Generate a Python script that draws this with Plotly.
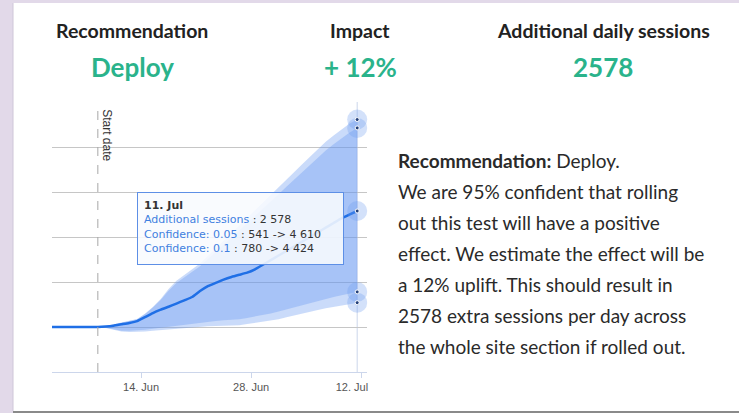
import plotly.graph_objects as go

# ---------------- data ----------------
dates = [
    "2017-06-02 12:00", "2017-06-03 12:00", "2017-06-04 12:00", "2017-06-05 12:00",
    "2017-06-06 12:00", "2017-06-07 12:00", "2017-06-08 12:00", "2017-06-09 12:00",
    "2017-06-10 12:00", "2017-06-11 12:00", "2017-06-12 12:00", "2017-06-13 12:00",
    "2017-06-14 12:00", "2017-06-15 12:00", "2017-06-16 12:00", "2017-06-17 12:00",
    "2017-06-18 12:00", "2017-06-19 12:00", "2017-06-20 12:00", "2017-06-21 12:00",
    "2017-06-22 12:00", "2017-06-23 12:00", "2017-06-24 12:00", "2017-06-25 12:00",
    "2017-06-26 12:00", "2017-06-27 12:00", "2017-06-28 12:00", "2017-06-29 12:00",
    "2017-06-30 12:00", "2017-07-01 12:00", "2017-07-02 12:00", "2017-07-03 12:00",
    "2017-07-04 12:00", "2017-07-05 12:00", "2017-07-06 12:00", "2017-07-07 12:00",
    "2017-07-08 12:00", "2017-07-09 12:00", "2017-07-10 12:00", "2017-07-11 12:00",
]
additional_sessions = [
    0, 0, 0, 0, 0, 0, 0, 10, 30, 60, 90, 130,
    220, 310, 385, 450, 520, 593, 667, 800, 909, 980, 1052, 1112,
    1160, 1207, 1282, 1383, 1485, 1588, 1691, 1795, 1898, 2001, 2104, 2208,
    2311, 2415, 2498, 2578,
]
conf05_upper = [
    0, 0, 0, 0, 0, 0, 0, 15, 60, 105, 140, 180,
    297, 444, 625, 844, 1029, 1156, 1283, 1410, 1576, 1744, 1913, 2081,
    2250, 2418, 2587, 2756, 2924, 3099, 3274, 3446, 3618, 3789, 3961, 4116,
    4256, 4396, 4519, 4610,
]
conf05_lower = [
    0, 0, 0, 0, 0, 0, 0, -20, -60, -100, -110, -110,
    -100, -85, -70, -55, -35, -20, -5, 10, 15, 20, 25, 30,
    38, 65, 90, 115, 140, 175, 215, 260, 300, 340, 380, 415,
    440, 470, 505, 541,
]
conf10_upper = [
    0, 0, 0, 0, 0, 0, 0, 14, 57, 100, 135, 175,
    289, 431, 601, 805, 978, 1100, 1221, 1349, 1509, 1668, 1827, 1984,
    2141, 2297, 2456, 2619, 2780, 2948, 3116, 3281, 3446, 3610, 3775, 3925,
    4062, 4198, 4317, 4424,
]
conf10_lower = [
    0, 0, 0, 0, 0, 0, 0, -16, -49, -81, -86, -81,
    -62, -38, -15, 6, 32, 54, 76, 105, 122, 135, 148, 160,
    173, 202, 233, 267, 301, 345, 392, 444, 492, 539, 587, 630,
    665, 703, 744, 780,
]
start_date = "2017-06-08 12:00"
tick_dates = ["2017-06-14", "2017-06-28", "2017-07-12"]
tick_labels = ["14. Jun", "28. Jun", "12. Jul"]
y_grid = [0, 1000, 2000, 3000, 4000]

header_labels = ["Recommendation", "Impact", "Additional daily sessions"]
header_values = ["Deploy", "+ 12%", "2578"]
paragraph = [
    "<b>Recommendation:</b> Deploy.",
    "We are 95% confident that rolling",
    "out this test will have a positive",
    "effect. We estimate the effect will be",
    "a 12% uplift. This should result in",
    "2578 extra sessions per day across",
    "the whole site section if rolled out.",
]
tooltip_date = "11. Jul"
tooltip_rows = [
    ("Additional sessions", "2 578"),
    ("Confidence: 0.05", "541 -> 4 610"),
    ("Confidence: 0.1", "780 -> 4 424"),
]

# ---------------- layout helpers ----------------
W, H = 739, 413
PL, PR, PT, PB = 52, 367, 102, 372


def px(p):
    return (p - PL) / (PR - PL)


def py(p):
    return (PB - p) / (PB - PT)


band_col = "rgba(100,150,240,0.34)"
line_col = "#1f6fe6"
green = "#2ab38b"

fig = go.Figure()
fig.add_trace(go.Scatter(x=dates, y=conf05_lower, mode="lines", line=dict(width=0),
                         hoverinfo="skip", showlegend=False))
fig.add_trace(go.Scatter(x=dates, y=conf05_upper, mode="lines", line=dict(width=0),
                         fill="tonexty", fillcolor=band_col, hoverinfo="skip", showlegend=False))
fig.add_trace(go.Scatter(x=dates, y=conf10_lower, mode="lines", line=dict(width=0),
                         hoverinfo="skip", showlegend=False))
fig.add_trace(go.Scatter(x=dates, y=conf10_upper, mode="lines", line=dict(width=0),
                         fill="tonexty", fillcolor=band_col, hoverinfo="skip", showlegend=False))
fig.add_trace(go.Scatter(x=dates, y=additional_sessions, mode="lines",
                         line=dict(color=line_col, width=2.5, shape="spline", smoothing=0.4),
                         showlegend=False))

last_x = dates[-1]
halo_vals = [conf05_upper[-1], conf10_upper[-1], additional_sessions[-1],
             conf10_lower[-1], conf05_lower[-1]]
fig.add_trace(go.Scatter(x=[last_x] * len(halo_vals), y=halo_vals, mode="markers",
                         marker=dict(size=20, color="rgba(110,155,240,0.30)", line=dict(width=0)),
                         showlegend=False, hoverinfo="skip", cliponaxis=False))
fig.add_trace(go.Scatter(x=[last_x] * len(halo_vals), y=halo_vals, mode="markers",
                         marker=dict(size=4, color="#23407a", line=dict(width=1, color="#ffffff")),
                         showlegend=False, hoverinfo="skip", cliponaxis=False))

shapes = [
    # white card
    dict(type="rect", xref="paper", yref="paper", x0=px(13), x1=px(745), y0=py(411), y1=py(3),
         fillcolor="#ffffff", line=dict(width=0), layer="below"),
    dict(type="line", xref="paper", yref="paper", x0=px(13), x1=px(745), y0=py(412), y1=py(412),
         line=dict(color="#8a8a8a", width=2), layer="below"),
    dict(type="line", xref="paper", yref="paper", x0=px(13), x1=px(13), y0=py(411), y1=py(3),
         line=dict(color="#cfc6d8", width=1), layer="below"),
    # crosshair
    dict(type="line", xref="x", yref="paper", x0=last_x, x1=last_x, y0=0, y1=1,
         line=dict(color="#ccd6eb", width=1), layer="below"),
    # start date line
    dict(type="line", xref="x", yref="paper", x0=start_date, x1=start_date, y0=0, y1=1,
         line=dict(color="#a8a8a8", width=1, dash="dash")),
]

annotations = []
hx = [132, 360, 603]
for i in range(3):
    annotations.append(dict(xref="paper", yref="paper", x=px(hx[i]), y=py(30),
                            text="<b>" + header_labels[i] + "</b>", showarrow=False,
                            xanchor="center", yanchor="middle",
                            font=dict(family="Lato", size=19.5, color="#222222")))
    annotations.append(dict(xref="paper", yref="paper", x=px(hx[i]), y=py(67),
                            text="<b>" + header_values[i] + "</b>", showarrow=False,
                            xanchor="center", yanchor="middle",
                            font=dict(family="Lato", size=26, color=green)))

for i, line in enumerate(paragraph):
    annotations.append(dict(xref="paper", yref="paper", x=px(396), y=py(160 + 31 * i),
                            text=line, showarrow=False, xanchor="left", yanchor="middle",
                            font=dict(family="Lato", size=19, color="#2a2a2a")))

annotations.append(dict(xref="x", yref="paper", x=start_date, y=py(135), xshift=9,
                        text="Start date", textangle=90, showarrow=False,
                        xanchor="center", yanchor="middle",
                        font=dict(family="Liberation Sans", size=12, color="#333333")))

tip_lines = ["<b>" + tooltip_date + "</b>"]
for name, val in tooltip_rows:
    tip_lines.append("<span style='color:#3f7fe0'>" + name + "</span> : " + val)
annotations.append(dict(xref="paper", yref="paper", x=px(137), y=py(192),
                        xanchor="left", yanchor="top", text="<br>".join(tip_lines),
                        showarrow=False, align="left", valign="top",
                        width=193, height=59, borderpad=6,
                        bgcolor="rgba(248,250,254,0.88)", bordercolor="#5d8fe6", borderwidth=1,
                        font=dict(family="DejaVu Sans", size=11, color="#333333")))

# last tick label is pushed left to stay inside the plot (as in the original)
shown_tick_labels = tick_labels[:-1] + [tick_labels[-1] + "&nbsp;" * 6]

fig.update_layout(
    width=W, height=H,
    margin=dict(l=PL, r=W - PR, t=PT, b=H - PB),
    paper_bgcolor="#e2d9e9",
    plot_bgcolor="rgba(0,0,0,0)",
    shapes=shapes,
    annotations=annotations,
    showlegend=False,
    xaxis=dict(type="date", range=["2017-06-02 16:00", "2017-07-12 18:00"],
               tickvals=tick_dates, ticktext=shown_tick_labels, showgrid=False,
               showline=True, linecolor="#ccd6eb", linewidth=1,
               ticks="outside", ticklen=5, tickcolor="#ccd6eb",
               tickfont=dict(family="Liberation Sans", size=11, color="#555555"),
               zeroline=False, fixedrange=True),
    yaxis=dict(range=[-1000, 5000], tickvals=y_grid, showticklabels=False,
               showgrid=True, gridcolor="#c6c6c6", gridwidth=1, zeroline=False,
               showline=False, fixedrange=True),
)

fig.write_html("out.html", config={"displayModeBar": False},
               post_script="document.body.style.margin='0';document.body.style.overflow='hidden';")
